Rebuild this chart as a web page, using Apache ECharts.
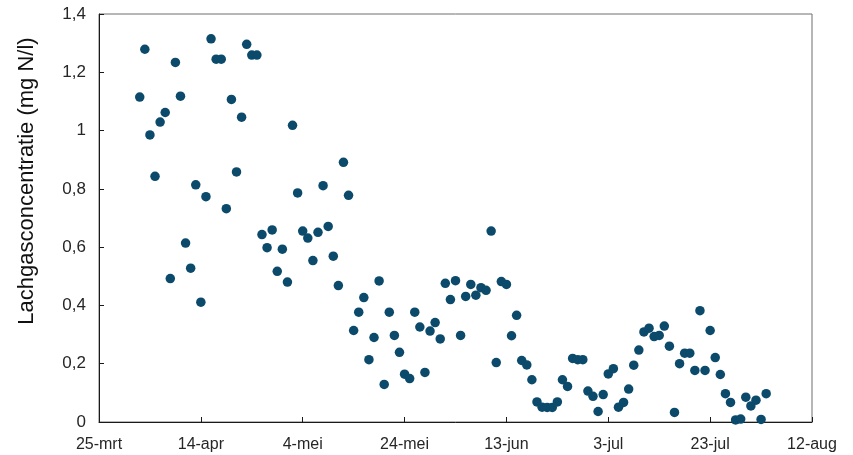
<!DOCTYPE html>
<html>
<head>
<meta charset="utf-8">
<script src="https://cdn.jsdelivr.net/npm/echarts@6/dist/echarts.min.js"></script>
<style>html,body{margin:0;padding:0;background:#fff}#c{width:853px;height:455px}</style>
</head>
<body>
<div id="c"></div>
<script>
// Start of the x axis (day 0) and tick labels every 20 days
const startDate = "2019-03-25";
const xTickLabels = ["25-mrt","14-apr","4-mei","24-mei","13-jun","3-jul","23-jul","12-aug"];
const yTickLabels = ["0","0,2","0,4","0,6","0,8","1","1,2","1,4"];

// Sample dates
const dates = [
"2019-04-02","2019-04-03","2019-04-04","2019-04-05","2019-04-06","2019-04-07","2019-04-08","2019-04-09","2019-04-10","2019-04-11",
"2019-04-12","2019-04-13","2019-04-14","2019-04-15","2019-04-16","2019-04-17","2019-04-18","2019-04-19","2019-04-20","2019-04-21",
"2019-04-22","2019-04-23","2019-04-24","2019-04-25","2019-04-26","2019-04-27","2019-04-28","2019-04-29","2019-04-30","2019-05-01",
"2019-05-02","2019-05-03","2019-05-04","2019-05-05","2019-05-06","2019-05-07","2019-05-08","2019-05-09","2019-05-10","2019-05-11",
"2019-05-12","2019-05-13","2019-05-14","2019-05-15","2019-05-16","2019-05-17","2019-05-18","2019-05-19","2019-05-20","2019-05-21",
"2019-05-22","2019-05-23","2019-05-24","2019-05-25","2019-05-26","2019-05-27","2019-05-28","2019-05-29","2019-05-30","2019-05-31",
"2019-06-01","2019-06-02","2019-06-03","2019-06-04","2019-06-05","2019-06-06","2019-06-07","2019-06-08","2019-06-09","2019-06-10",
"2019-06-11","2019-06-12","2019-06-13","2019-06-14","2019-06-15","2019-06-16","2019-06-17","2019-06-18","2019-06-19","2019-06-20",
"2019-06-21","2019-06-22","2019-06-23","2019-06-24","2019-06-25","2019-06-26","2019-06-27","2019-06-28","2019-06-29","2019-06-30",
"2019-07-01","2019-07-02","2019-07-03","2019-07-04","2019-07-05","2019-07-06","2019-07-07","2019-07-08","2019-07-09","2019-07-10",
"2019-07-11","2019-07-12","2019-07-13","2019-07-14","2019-07-15","2019-07-16","2019-07-17","2019-07-18","2019-07-19","2019-07-20",
"2019-07-21","2019-07-22","2019-07-23","2019-07-24","2019-07-25","2019-07-26","2019-07-27","2019-07-28","2019-07-29","2019-07-30",
"2019-07-31","2019-08-01","2019-08-02","2019-08-03"
];

// Lachgasconcentratie (mg N/l)
const values = [
1.115,1.279,0.985,0.843,1.029,1.062,0.492,1.234,1.118,0.614,
0.528,0.814,0.411,0.773,1.315,1.245,1.245,0.732,1.107,0.858,
1.046,1.296,1.259,1.259,0.643,0.598,0.659,0.517,0.593,0.480,
1.018,0.786,0.655,0.631,0.554,0.651,0.811,0.671,0.569,0.468,
0.891,0.778,0.314,0.377,0.427,0.214,0.290,0.484,0.129,0.377,
0.297,0.239,0.164,0.149,0.377,0.326,0.170,0.312,0.341,0.285,
0.476,0.420,0.485,0.297,0.431,0.472,0.435,0.461,0.452,0.655,
0.204,0.482,0.472,0.296,0.366,0.211,0.196,0.145,0.069,0.051,
0.050,0.050,0.069,0.145,0.122,0.218,0.214,0.214,0.106,0.088,
0.036,0.094,0.165,0.183,0.051,0.067,0.113,0.195,0.247,0.309,
0.322,0.293,0.297,0.329,0.260,0.033,0.200,0.236,0.236,0.177,
0.382,0.177,0.314,0.221,0.163,0.097,0.067,0.007,0.010,0.085,
0.055,0.075,0.009,0.097
];

const DAY = 86400000;
const t0 = Date.parse(startDate + "T00:00:00Z");
const points = dates.map((d, i) => [Math.round((Date.parse(d + "T00:00:00Z") - t0) / DAY), values[i]]);

const font = '"Liberation Sans", Arial, sans-serif';
const chart = echarts.init(document.getElementById('c'), null, {renderer: 'canvas'});
chart.setOption({
  animation: false,
  backgroundColor: '#ffffff',
  grid: {left: 99, right: 41, top: 14, bottom: 33, show: true, borderColor: '#6e6e6e', borderWidth: 1},
  xAxis: {
    type: 'value', min: 0, max: 140, interval: 20,
    splitLine: {show: false},
    axisLine: {show: true, lineStyle: {color: '#1a1a1a', width: 1}},
    axisTick: {show: true, inside: true, length: 5, lineStyle: {color: '#1a1a1a'}},
    axisLabel: {
      margin: 15, color: '#262626', fontSize: 16, fontFamily: font,
      formatter: (v) => xTickLabels[Math.round(v / 20)]
    }
  },
  yAxis: {
    type: 'value', min: 0, max: 1.4, interval: 0.2,
    splitLine: {show: false},
    axisLine: {show: true, lineStyle: {color: '#1a1a1a', width: 1}},
    axisTick: {show: true, inside: true, length: 5, lineStyle: {color: '#1a1a1a'}},
    axisLabel: {
      margin: 13, color: '#262626', fontSize: 17, fontFamily: font,
      formatter: (v) => yTickLabels[Math.round(v / 0.2)]
    },
    name: 'Lachgasconcentratie (mg N/l)',
    nameLocation: 'middle',
    nameGap: 61,
    nameTextStyle: {color: '#111', fontSize: 22, fontFamily: font, padding: [0, 0, 0, 74]}
  },
  series: [{
    type: 'scatter',
    data: points,
    symbol: 'circle',
    symbolSize: 9.5,
    itemStyle: {color: '#0b4a6b', opacity: 1}
  }]
});
</script>
</body>
</html>
